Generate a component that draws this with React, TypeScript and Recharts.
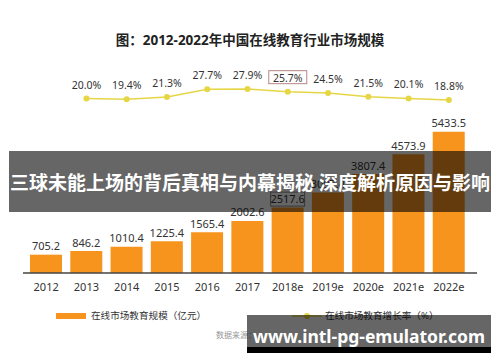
import React from "react";
import { ComposedChart, Bar, Line, XAxis, YAxis, LabelList } from "recharts";

const years = ["2012", "2013", "2014", "2015", "2016", "2017", "2018e", "2019e", "2020e", "2021e", "2022e"];
const marketSize = [705.2, 846.2, 1010.4, 1225.4, 1565.4, 2002.6, 2517.6, 3097.4, 3807.4, 4573.9, 5433.5];
const growthRate: (number | null)[] = [null, 20.0, 19.4, 21.3, 27.7, 27.9, 25.7, 24.5, 21.5, 20.1, 18.8];
const highlightIndex = 6;

const data = years.map((y, i) => ({ year: y, size: marketSize[i], rate: growthRate[i] }));

const FONT = '"Noto Sans", "Noto Sans CJK SC", sans-serif';
const ORANGE = "#F7941E";
const YELLOW = "#E6D646";

const BarLabel = (props: any) => {
  const { x, y, width, value, index } = props;
  const cx = x + width / 2;
  const ty = y - 4.5;
  return (
    <g>
      {index === highlightIndex && (
        <rect x={cx - 17} y={ty - 11} width={34} height={14} fill="none" stroke="#888" strokeWidth={1} />
      )}
      <text x={cx} y={ty} textAnchor="middle" fontSize={11} fill="#333" fontFamily={FONT}>
        {value.toFixed(1)}
      </text>
    </g>
  );
};

const RateLabel = (props: any) => {
  const { x, y, value, index } = props;
  if (value === null || value === undefined) return null;
  const ty = y - 10;
  return (
    <g>
      {index === highlightIndex && (
        <rect x={x - 19} y={ty - 11} width={38} height={13} fill="none" stroke="#b88484" strokeWidth={1} />
      )}
      <text x={x} y={ty} textAnchor="middle" fontSize={10.5} fill="#333" fontFamily={FONT}>
        {value.toFixed(1) + "%"}
      </text>
    </g>
  );
};

export default function App() {
  return (
    <div style={{ position: "absolute", left: 0, top: 0, width: 500, height: 362, background: "#fff", fontFamily: FONT, overflow: "hidden" }}>
      <ComposedChart width={500} height={362} data={data} margin={{ top: 60, right: 23, bottom: 59, left: 23 }} barSize={32}>
        <XAxis
          dataKey="year"
          height={30}
          padding={{ left: 3, right: 8 }}
          tickLine={false}
          tickSize={0}
          tickMargin={10}
          axisLine={{ stroke: "#444", strokeWidth: 1.5 }}
          tick={{ fontSize: 11, fill: "#333", fontFamily: FONT }}
          interval={0}
        />
        <YAxis yAxisId="size" hide domain={[0, 8200]} />
        <YAxis yAxisId="rate" hide orientation="right" domain={[-125.4, 52.1]} />
        <Bar yAxisId="size" dataKey="size" fill={ORANGE} isAnimationActive={false}>
          <LabelList dataKey="size" content={<BarLabel />} />
        </Bar>
        <Line
          yAxisId="rate"
          dataKey="rate"
          stroke={YELLOW}
          strokeWidth={1.5}
          dot={{ r: 3, fill: YELLOW, stroke: "none" }}
          isAnimationActive={false}
        >
          <LabelList dataKey="rate" content={<RateLabel />} />
        </Line>
      </ComposedChart>

      <div style={{ position: "absolute", left: 0, top: 30, width: 500, textAlign: "center", fontSize: 13.5, fontWeight: 700, color: "#222", lineHeight: "20px" }}>
        图：2012-2022年中国在线教育行业市场规模
      </div>

      {/* legend */}
      <div style={{ position: "absolute", left: 56, top: 312.5, width: 30, height: 6, background: ORANGE }} />
      <div style={{ position: "absolute", left: 91, top: 309, fontSize: 9.6, color: "#333", lineHeight: "14px", whiteSpace: "nowrap" }}>
        在线市场教育规模（亿元）
      </div>
      <svg style={{ position: "absolute", left: 292, top: 311 }} width={32} height={10}>
        <line x1={0} y1={5} x2={30} y2={5} stroke={YELLOW} strokeWidth={1.5} />
        <circle cx={15} cy={5} r={3} fill={YELLOW} />
      </svg>
      <div style={{ position: "absolute", left: 325, top: 309, fontSize: 9.6, color: "#333", lineHeight: "14px", whiteSpace: "nowrap" }}>
        在线市场教育增长率（%）
      </div>
      <div style={{ position: "absolute", left: 216, top: 330, fontSize: 8, color: "#999", lineHeight: "10px", whiteSpace: "nowrap" }}>
        数据来源：
      </div>

      {/* overlay banner */}
      <div style={{ position: "absolute", left: 9, top: 151, width: 482, height: 61, background: "rgba(0,0,0,0.6)", display: "flex", alignItems: "center", justifyContent: "center" }}>
        <span style={{ color: "#fff", fontSize: 19, fontWeight: 700, whiteSpace: "nowrap", letterSpacing: 0 }}>
          三球未能上场的背后真相与内幕揭秘 深度解析原因与影响
        </span>
      </div>

      {/* watermark */}
      <div style={{ position: "absolute", left: 247, top: 315, width: 244, height: 32, background: "rgba(0,0,0,0.6)" }} />
      <div style={{ position: "absolute", left: 247, top: 347, width: 244, height: 6, background: "#000" }} />
      <div style={{ position: "absolute", left: 247, top: 323, width: 244, textAlign: "center", color: "#fff", fontSize: 17.5, fontWeight: 700, lineHeight: "26px", whiteSpace: "nowrap" }}>
        www.intl-pg-emulator.com
      </div>
    </div>
  );
}
